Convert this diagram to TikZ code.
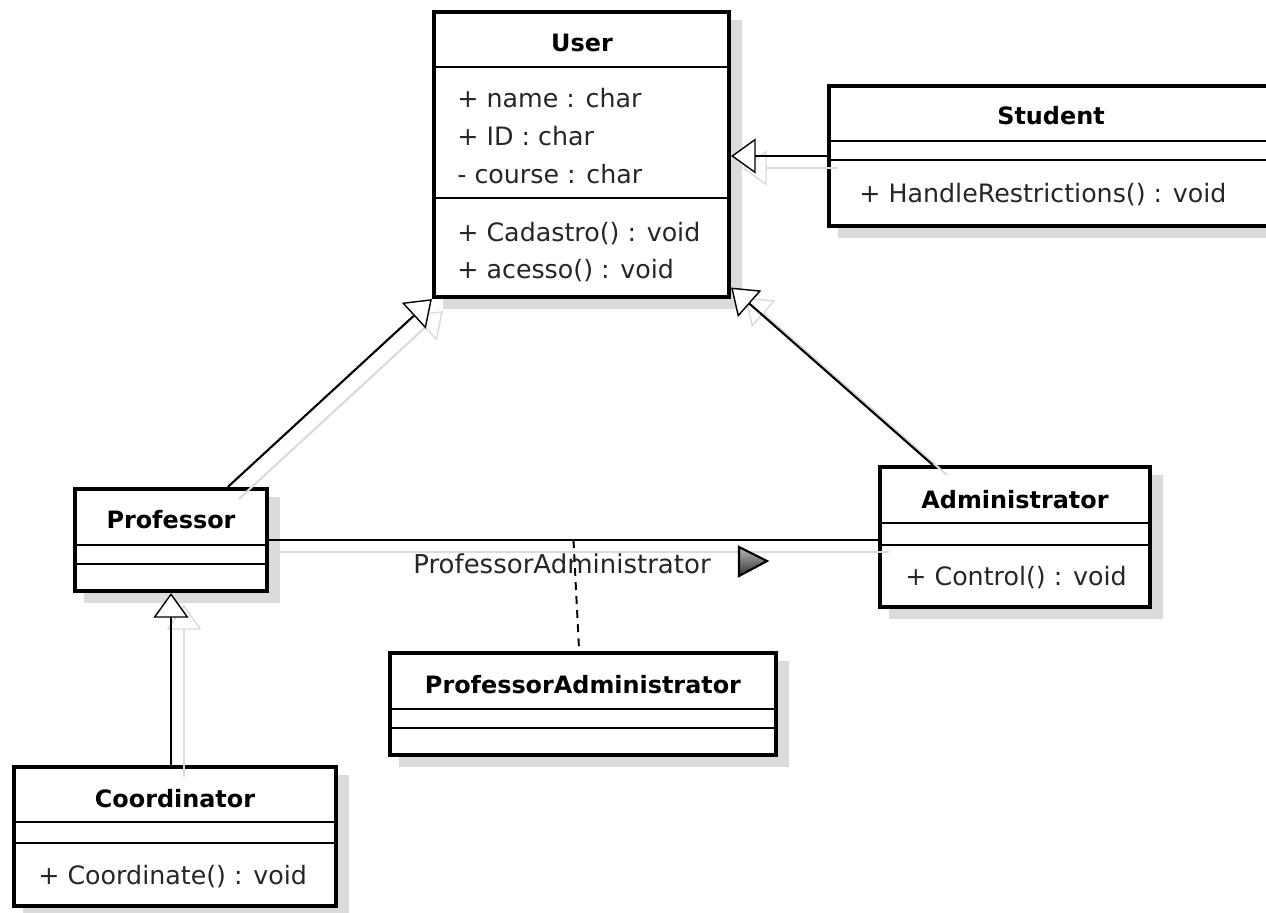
\documentclass[tikz,border=0pt]{standalone}
\usepackage{fontspec}
\setmainfont{DejaVu Sans}
\usetikzlibrary{arrows.meta,calc}
\definecolor{shadowc}{gray}{0.86}
\definecolor{triA}{gray}{0.72}
\definecolor{triB}{gray}{0.2}
\newcommand{\umlclass}[7]{%
  \fill[shadowc] (#2+9,#3+8) rectangle (#4+13,#5+12);
  \node[classbox, minimum width={(#4-#2)*0.02cm}, minimum height={(#5-#3)*0.02cm}] (#1) at ({(#2+#4)/2},{(#3+#5)/2}) {};
  \draw[sepline] (#2,#6) -- (#4,#6);
  \draw[sepline] (#2,#7) -- (#4,#7);
}
\tikzset{
  classbox/.style={draw=black, line width=2.4pt, fill=white, inner sep=0pt},
  sepline/.style={draw=black, line width=0.9pt},
  title/.style={font=\bfseries\fontsize{13.6}{16}\selectfont, inner sep=0pt, anchor=base},
  member/.style={font=\fontsize{14.4}{17}\selectfont, inner sep=0pt, anchor=base west, text=black!85},
  gen/.style={draw=black, line width=1.2pt, -{Triangle[fill=white, length=14pt, width=20pt, line width=0.8pt]}},
  genshadow/.style={draw=shadowc, line width=1.2pt, -{Triangle[fill=white, length=14pt, width=20pt, line width=0.8pt]}},
  assoc/.style={draw=black, line width=1.1pt},
  assocshadow/.style={draw=shadowc, line width=1.1pt},
  dashline/.style={draw=black, line width=1.1pt, dash pattern=on 4.5pt off 3.5pt},
  label/.style={font=\fontsize{14.8}{17}\selectfont, inner sep=0pt, anchor=base, text=black!85}
}
\begin{document}
\begin{tikzpicture}[x=0.02cm,y=-0.02cm]
\clip (0,0) rectangle (1266,912);
\fill[white] (0,0) rectangle (1266,912);

% classes
\umlclass{user}{434}{12}{729}{297}{67}{198}
\umlclass{student}{829}{86}{1275}{226}{141}{160}
\umlclass{prof}{75}{489}{267}{591}{545}{564}
\umlclass{admin}{880}{467}{1150}{607}{523}{545}
\umlclass{pa}{390}{653}{776}{755}{709}{728}
\umlclass{coord}{14}{767}{336}{906}{822}{843}

% connector end points
\coordinate (pTop) at ($(prof.north west)!0.79!(prof.north east)$);
\coordinate (aTop) at ($(admin.north west)!0.2!(admin.north east)$);
\coordinate (uTip) at ($(user.north east)!0.96!(user.south east)$);
\coordinate (sTip) at (student.west -| user.east);
\coordinate (cTop) at (coord.north -| prof.south);
\coordinate (aLeft) at (prof.east -| admin.west);
\coordinate (mid) at ($(prof.east)!0.5!(aLeft)$);
\coordinate (paTop) at ($(pa.north west)!0.49!(pa.north east)$);

% connector shadows
\draw[genshadow] ($(student.west)+(11,12)$) -- ($(sTip)+(11,12)$);
\draw[genshadow] ($(pTop)+(11,12)$) -- ($(user.south west)+(11,12)$);
\draw[genshadow] ($(aTop)+(14,10)$) -- ($(uTip)+(14,10)$);
\draw[genshadow] ($(cTop)+(13,12)$) -- ($(prof.south)+(13,12)$);
\draw[assocshadow] ($(prof.east)+(11,12)$) -- ($(aLeft)+(11,12)$);

% connectors
\draw[gen] (student.west) -- (sTip);
\draw[gen] (pTop) -- (user.south west);
\draw[gen] (aTop) -- (uTip);
\draw[gen] (cTop) -- (prof.south);
\draw[assoc] (prof.east) -- (aLeft);
\draw[dashline] (mid) -- (paTop);

% association label and direction marker
\node[label] (assocLabel) at (562,573) {ProfessorAdministrator};
\shade[top color=triA, bottom color=triB, draw=black, line width=1.2pt]
  (739,547) -- (767,561) -- (739,576) -- cycle;

% texts
\node[title] (tUser) at (582,52) {User};
\node[member] (u1) at (457,108) {+ name : char};
\node[member] (u2) at (457,146) {+ ID : char};
\node[member] (u3) at (457,183) {- course : char};
\node[member] (u4) at (457,241) {+ Cadastro() : void};
\node[member] (u5) at (457,278) {+ acesso() : void};

\node[title] (tStudent) at (1051,125) {Student};
\node[member] (s1) at (859,202) {+ HandleRestrictions() : void};

\node[title] (tProf) at (171,528) {Professor};

\node[title] (tAdmin) at (1015,508) {Administrator};
\node[member] (a1) at (905,585) {+ Control() : void};

\node[title] (tPA) at (583,693) {ProfessorAdministrator};

\node[title] (tCoord) at (175,807) {Coordinator};
\node[member] (c1) at (38,884) {+ Coordinate() : void};
\end{tikzpicture}
\end{document}
